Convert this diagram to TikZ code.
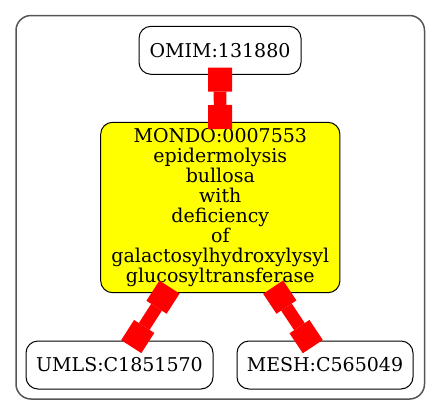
\documentclass[tikz,border=0pt]{standalone}
\usepackage{fontspec}
\setmainfont{DejaVu Serif}
\definecolor{edgered}{RGB}{255,0,0}
\definecolor{termyellow}{RGB}{255,255,0}
\definecolor{framegray}{RGB}{85,85,85}
\usetikzlibrary{arrows.meta}

\begin{document}
\begin{tikzpicture}[x=1pt, y=-1pt,
  nbox/.style={draw, rounded corners=12pt, line width=1pt, outer sep=0pt, inner sep=0pt, align=center, font=\fontsize{19}{20}\selectfont, minimum height=48pt},
  xref/.style={draw=edgered, line width=12.7pt, {Square[length=24pt,width=24pt,line width=0pt]}-{Square[length=24pt,width=24pt,line width=0pt]}, shorten <=-6.7pt, shorten >=-6.7pt}
]
  \useasboundingbox (0,0) rectangle (440,416);
  \draw[framegray, line width=1.5pt, rounded corners=15pt] (16,15.5) rectangle (424.5,399);
  \node[nbox, minimum width=162pt] (omim) at (220,50.3) {OMIM:131880};
  \node[nbox, fill=termyellow, minimum width=239.3pt, minimum height=170.4pt] (mondo) at (220.3,207.5) {MONDO:0007553\\epidermolysis\\bullosa\\with\\deficiency\\of\\galactosylhydroxylysyl\\glucosyltransferase};
  \node[nbox, minimum width=187pt] (umls) at (119.5,365) {UMLS:C1851570};
  \node[nbox, minimum width=176pt] (mesh) at (325,365) {MESH:C565049};
  \draw[xref] (omim) -- (mondo);
  \draw[xref] (mondo) -- (umls);
  \draw[xref] (mondo) -- (mesh);
\end{tikzpicture}
\end{document}
